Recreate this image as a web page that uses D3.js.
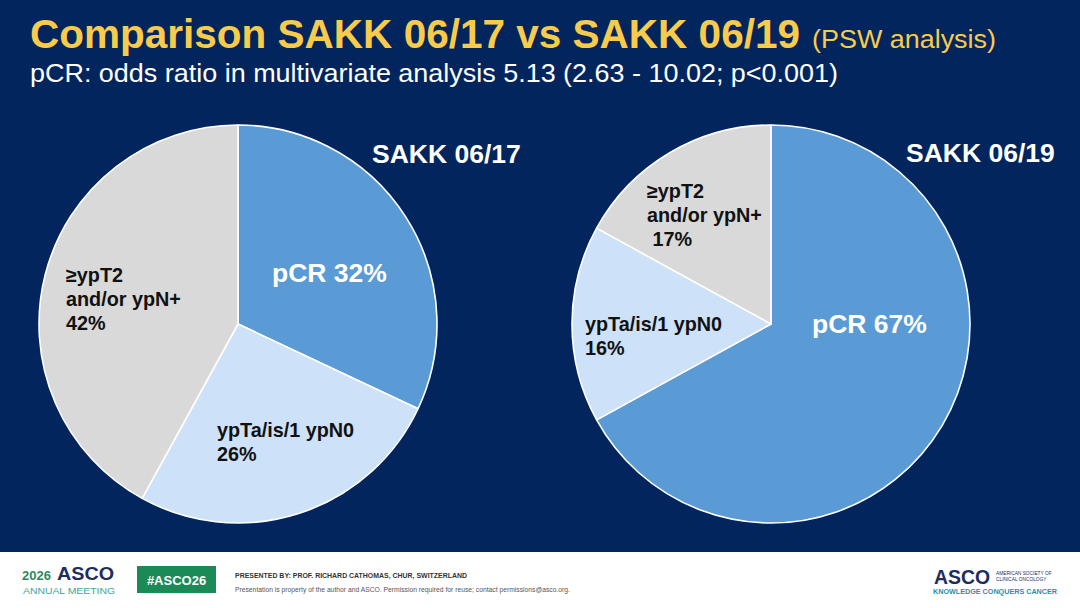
<!DOCTYPE html>
<html><head><meta charset="utf-8">
<script src="https://cdn.jsdelivr.net/npm/d3@7"></script>
<style>html,body{margin:0;padding:0;background:#fff;}svg{display:block;}</style>
</head><body>
<script>
const categories = ["pCR", "ypTa/is/1 ypN0", "≥ypT2 and/or ypN+"];
const studies = ["SAKK 06/17", "SAKK 06/19"];
const valuesSAKK0617 = [32, 26, 42];
const valuesSAKK0619 = [67, 16, 17];
const title = "Comparison SAKK 06/17 vs SAKK 06/19";
const titleNote = "(PSW analysis)";
const subtitle = "pCR: odds ratio in multivariate analysis 5.13 (2.63 - 10.02; p<0.001)";

const W = 1080, H = 608;
const svg = d3.select("body").append("svg").attr("width", W).attr("height", H);
const F = "'Liberation Sans', Arial, sans-serif";

svg.append("rect").attr("width", W).attr("height", 552).attr("fill", "#03255e");
svg.append("rect").attr("y", 552).attr("width", W).attr("height", 56).attr("fill", "#ffffff");

// Title
svg.append("text").attr("x", 30).attr("y", 48).attr("font-family", F).attr("font-weight", "bold")
  .attr("font-size", 40).attr("fill", "#f8cb4b").attr("textLength", 770).attr("lengthAdjust", "spacingAndGlyphs").text(title);
svg.append("text").attr("x", 812).attr("y", 48).attr("font-family", F)
  .attr("font-size", 25).attr("fill", "#f8cb4b").attr("textLength", 184).attr("lengthAdjust", "spacingAndGlyphs").text(titleNote);
svg.append("text").attr("x", 30).attr("y", 82).attr("font-family", F)
  .attr("font-size", 25).attr("fill", "#ffffff").attr("textLength", 808).attr("lengthAdjust", "spacingAndGlyphs").text(subtitle);

const colors = d3.scaleOrdinal().domain(categories).range(["#5b9bd5", "#cde1f8", "#d9d9d9"]);
const R = 199;
const pie = d3.pie().sort(null).value(d => d.v);
const arc = d3.arc().innerRadius(0).outerRadius(R);

const pies = [
  {name: studies[0], vals: valuesSAKK0617, cx: 238, cy: 324,
   titlePos: [372, 163],
   labels: [
     {lines: [categories[0] + " " + valuesSAKK0617[0] + "%"], x: 272, y: 282, white: true},
     {lines: [categories[1], valuesSAKK0617[1] + "%"], x: 217, y: 437},
     {lines: ["≥ypT2", "and/or ypN+", valuesSAKK0617[2] + "%"], x: 66, y: 282}
   ]},
  {name: studies[1], vals: valuesSAKK0619, cx: 771, cy: 324,
   titlePos: [906, 162],
   labels: [
     {lines: [categories[0] + " " + valuesSAKK0619[0] + "%"], x: 812, y: 333, white: true},
     {lines: [categories[1], valuesSAKK0619[1] + "%"], x: 585, y: 331},
     {lines: ["≥ypT2", "and/or ypN+", "\u00a0" + valuesSAKK0619[2] + "%"], x: 647, y: 198}
   ]}
];

pies.forEach(p => {
  const data = categories.map((c, i) => ({c, v: p.vals[i]}));
  const g = svg.append("g").attr("transform", `translate(${p.cx},${p.cy})`);
  g.selectAll("path").data(pie(data)).join("path")
    .attr("d", arc).attr("fill", d => colors(d.data.c))
    .attr("stroke", "#ffffff").attr("stroke-width", 1.6).attr("stroke-linejoin", "round");
  svg.append("text").attr("x", p.titlePos[0]).attr("y", p.titlePos[1]).attr("font-family", F)
    .attr("font-weight", "bold").attr("font-size", 26.5).attr("fill", "#ffffff").text(p.name);
  p.labels.forEach(l => {
    const t = svg.append("text").attr("font-family", F).attr("font-weight", "bold")
      .attr("font-size", l.white ? 26.5 : 19.8).attr("fill", l.white ? "#ffffff" : "#111111");
    l.lines.forEach((s, i) => t.append("tspan").attr("x", l.x).attr("y", l.y + i * 23.8).text(s));
  });
});

// Footer
const fg = svg.append("g");
fg.append("text").attr("x", 22).attr("y", 580).attr("font-family", F).attr("font-size", 13)
  .attr("fill", "#2a8a63").attr("font-weight", "bold").text("2026");
fg.append("text").attr("x", 57).attr("y", 580).attr("font-family", F).attr("font-size", 18)
  .attr("fill", "#1c2d5e").attr("font-weight", "bold").attr("textLength", 57).attr("lengthAdjust", "spacingAndGlyphs").text("ASCO");
fg.append("text").attr("x", 23).attr("y", 594).attr("font-family", F).attr("font-size", 9.5)
  .attr("fill", "#3aa79a").attr("textLength", 92).attr("lengthAdjust", "spacingAndGlyphs").text("ANNUAL MEETING");
fg.append("rect").attr("x", 137).attr("y", 566).attr("width", 79).attr("height", 27).attr("fill", "#1c8a56");
fg.append("text").attr("x", 176.5).attr("y", 585).attr("text-anchor", "middle").attr("font-family", F)
  .attr("font-size", 13).attr("font-weight", "bold").attr("fill", "#ffffff").text("#ASCO26");
fg.append("text").attr("x", 235).attr("y", 578).attr("font-family", F).attr("font-size", 6.8)
  .attr("font-weight", "bold").attr("fill", "#333").attr("textLength", 232).attr("lengthAdjust", "spacingAndGlyphs")
  .text("PRESENTED BY:  PROF. RICHARD CATHOMAS, CHUR, SWITZERLAND");
fg.append("text").attr("x", 235).attr("y", 592).attr("font-family", F).attr("font-size", 6.3)
  .attr("fill", "#555").attr("textLength", 335).attr("lengthAdjust", "spacingAndGlyphs")
  .text("Presentation is property of the author and ASCO. Permission required for reuse; contact permissions@asco.org.");
fg.append("text").attr("x", 934).attr("y", 584).attr("font-family", F).attr("font-size", 20)
  .attr("font-weight", "bold").attr("fill", "#1c2d5e").attr("textLength", 56).attr("lengthAdjust", "spacingAndGlyphs").text("ASCO");
fg.append("text").attr("x", 996).attr("y", 575).attr("font-family", F).attr("font-size", 4.8)
  .attr("fill", "#1c2d5e").text("AMERICAN SOCIETY OF");
fg.append("text").attr("x", 996).attr("y", 581).attr("font-family", F).attr("font-size", 4.8)
  .attr("fill", "#1c2d5e").text("CLINICAL ONCOLOGY");
fg.append("text").attr("x", 933).attr("y", 594).attr("font-family", F).attr("font-size", 7)
  .attr("font-weight", "bold").attr("fill", "#2b8fa8").attr("textLength", 124).attr("lengthAdjust", "spacingAndGlyphs")
  .text("KNOWLEDGE CONQUERS CANCER");
</script>
</body></html>
